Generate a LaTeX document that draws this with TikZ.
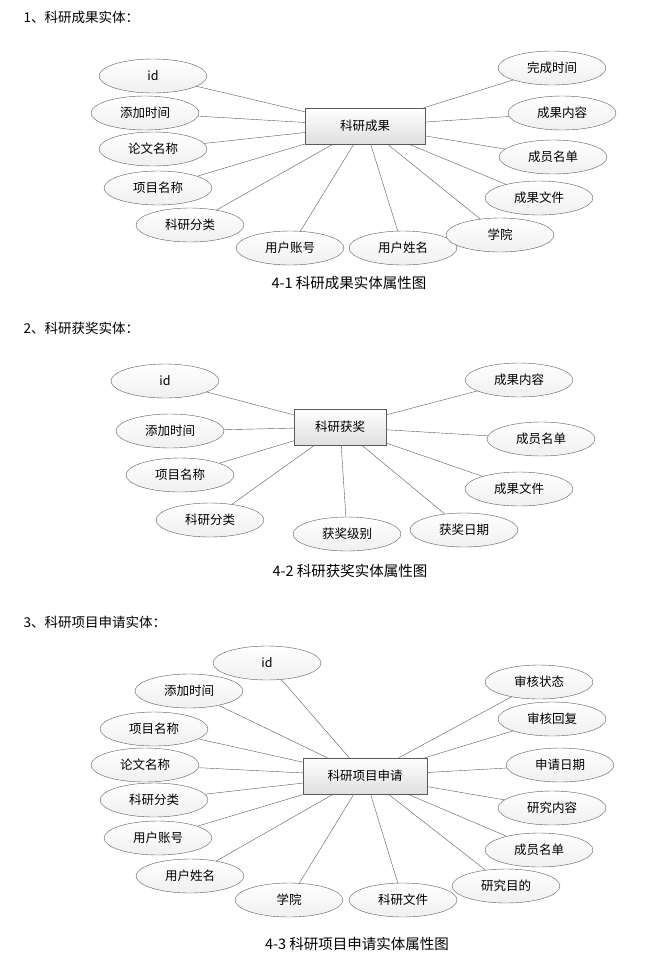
\documentclass[tikz,border=0pt]{standalone}
\usepackage{fontspec}
\newfontfamily\cjk{Noto Sans CJK SC}
\usetikzlibrary{shapes.geometric}
\definecolor{rand}{RGB}{90, 90, 90}
\tikzset{
    attr/.style={draw=rand, ellipse, top color=white, bottom color=gray!12, minimum width=108pt, minimum height=34pt, inner sep=0pt, font=\cjk\fontsize{12.5}{14}\selectfont},
    ent/.style={draw=rand, rectangle, top color=white, bottom color=gray!25, minimum height=36pt, font=\cjk\fontsize{12.5}{14}\selectfont},
    conn/.style={-, rand, thin},
    titel/.style={anchor=west, font=\cjk\fontsize{13.5}{15}\selectfont},
    capt/.style={font=\cjk\fontsize{14.5}{16}\selectfont},
}
\begin{document}
\begin{tikzpicture}[x=1pt, y=-1pt]
    \useasboundingbox (0,0) rectangle (662,954);

    % 4-1
    \node[titel] (t1) at (20,17) {1、科研成果实体：};
    \node[ent, minimum width=120pt] (r1) at (365,126) {科研成果};
    \foreach \name/\x/\y/\lab in {a/153/76/id, b/145/113/添加时间, c/153/149/论文名称,
        d/158/188/项目名称, e/190/225/科研分类, f/290/248/用户账号, g/403/248/用户姓名,
        h/500/235/学院, i/539/198/成果文件, j/553/157/成员名单, k/562/113/成果内容,
        l/552/68/完成时间}{
        \node[attr] (r1\name) at (\x,\y) {\lab};
        \draw[conn] (r1\name) -- (r1);
    }
    \node[capt] (c1) at (349,283) {4-1 科研成果实体属性图};

    % 4-2
    \node[titel] (t2) at (20,328) {2、科研获奖实体：};
    \node[ent, minimum width=92pt] (r2) at (340,427) {科研获奖};
    \foreach \name/\x/\y/\lab in {a/165/381/id, b/170/431/添加时间, c/180/475/项目名称,
        d/210/520/科研分类, e/347/534/获奖级别, f/464/530/获奖日期, g/519/489/成果文件,
        h/541/439/成员名单, i/519/380/成果内容}{
        \node[attr] (r2\name) at (\x,\y) {\lab};
        \draw[conn] (r2\name) -- (r2);
    }
    \node[capt] (c2) at (350,571) {4-2 科研获奖实体属性图};

    % 4-3
    \node[titel] (t3) at (20,622) {3、科研项目申请实体：};
    \node[ent, minimum width=124pt] (r3) at (365,776) {科研项目申请};
    \foreach \name/\x/\y/\lab in {a/267/663/id, b/189/691/添加时间, c/154/729/项目名称,
        d/145/765/论文名称, e/154/800/科研分类, f/158/838/用户账号, g/190/876/用户姓名,
        h/289/900/学院, i/403/900/科研文件, j/506/886/研究目的, k/539/850/成员名单,
        l/552/808/研究内容, m/560/765/申请日期, n/552/719/审核回复, o/539/682/审核状态}{
        \node[attr] (r3\name) at (\x,\y) {\lab};
        \draw[conn] (r3\name) -- (r3);
    }
    \node[capt] (c3) at (357,944) {4-3 科研项目申请实体属性图};
\end{tikzpicture}
\end{document}
